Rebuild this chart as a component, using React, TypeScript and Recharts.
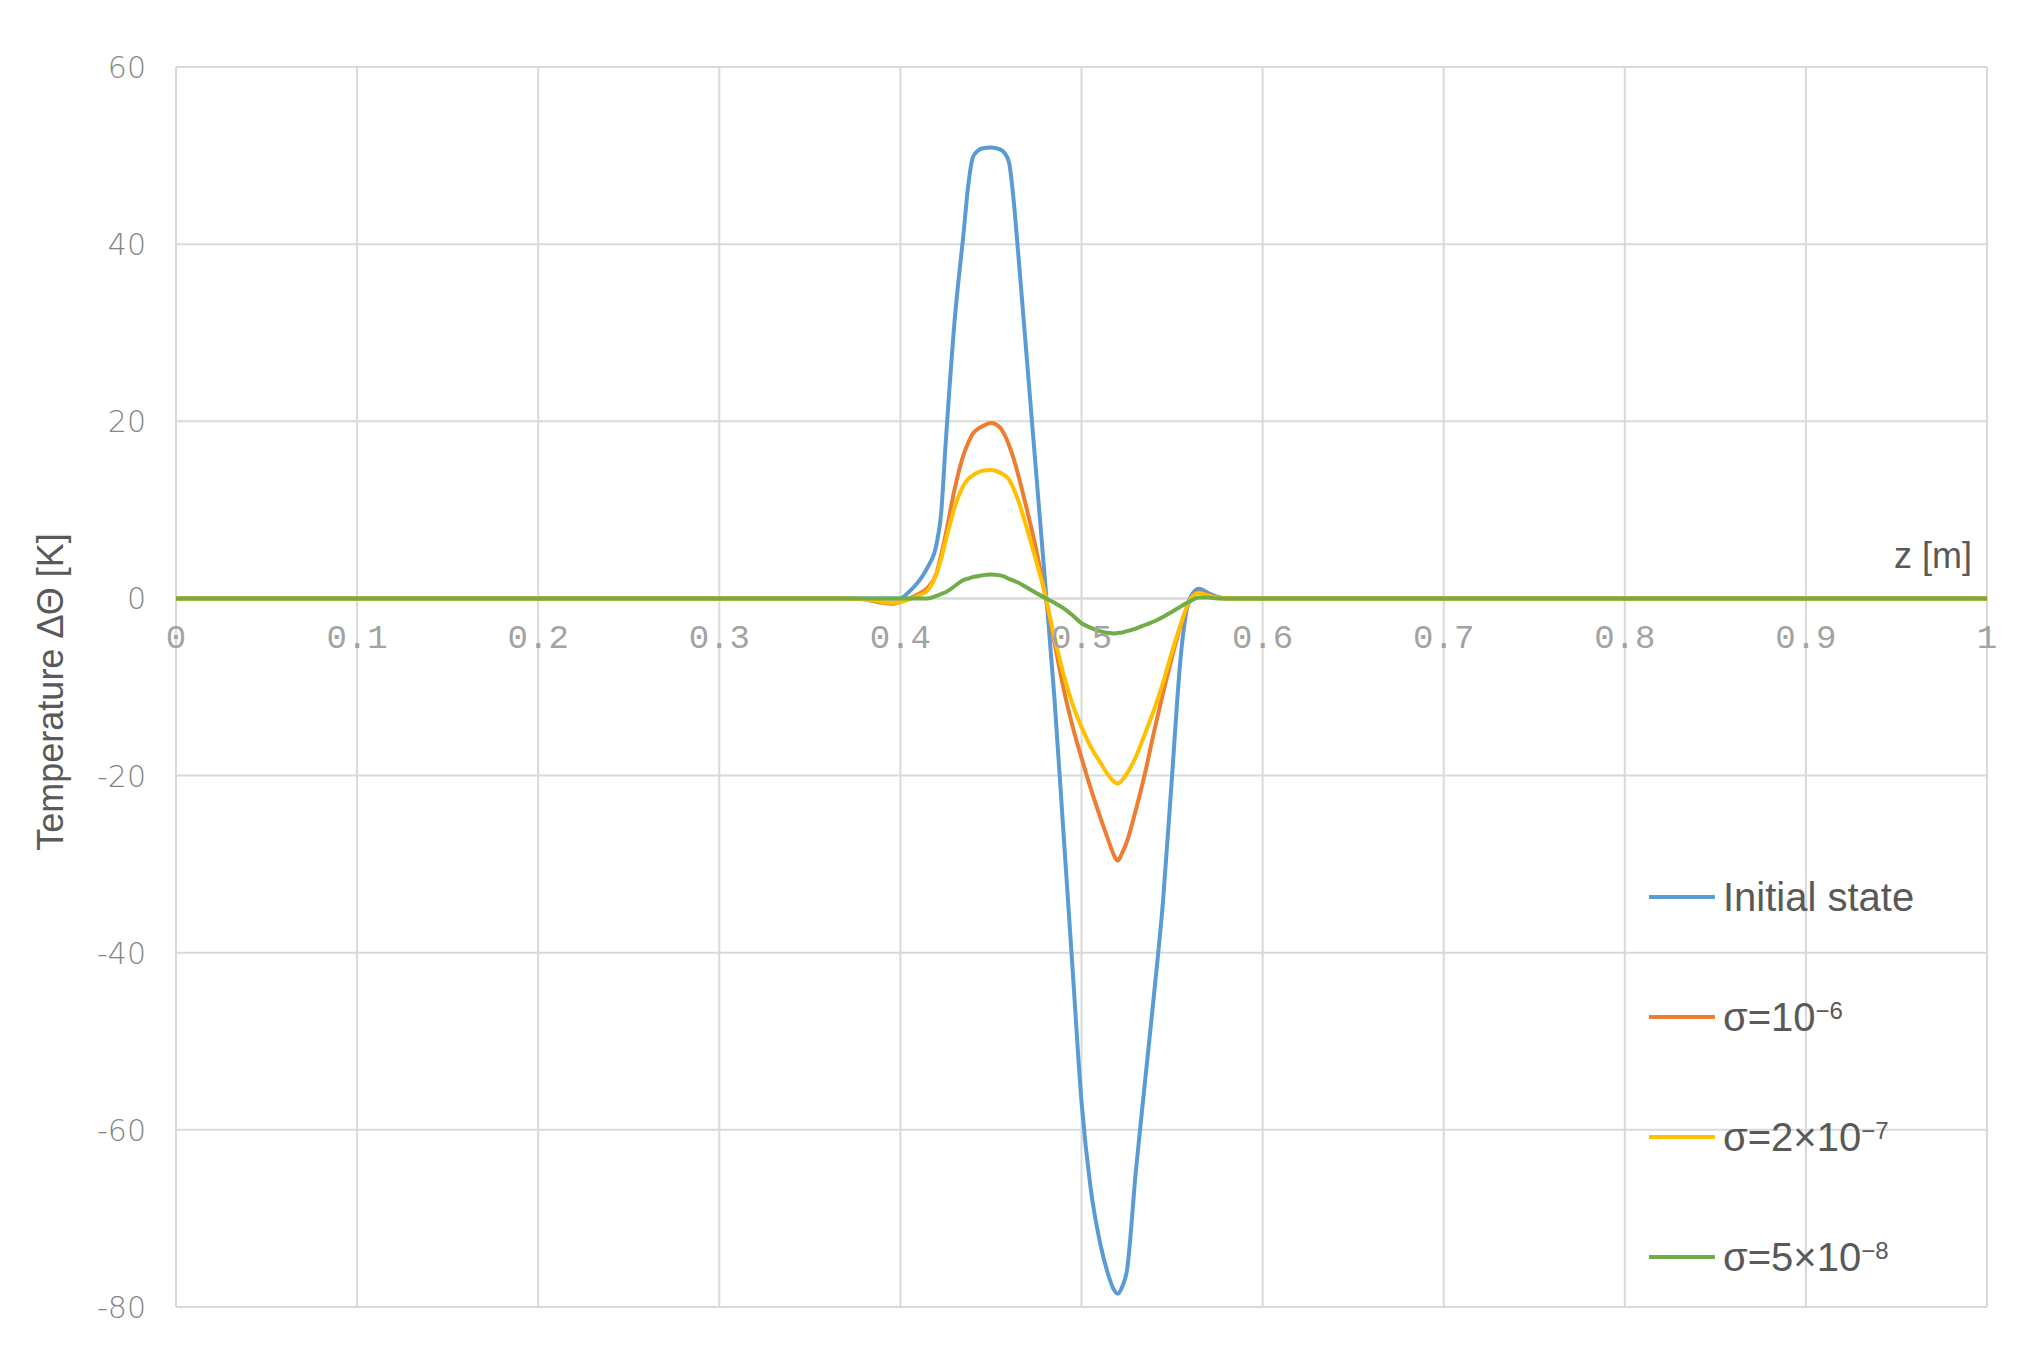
import { LineChart, Line, XAxis, YAxis, CartesianGrid, ReferenceLine, Legend } from 'recharts';

// z [m] sample positions
const Z = [
  0, 0.1, 0.2, 0.3, 0.37, 0.38, 0.385, 0.39, 0.395,
  0.4, 0.405, 0.41, 0.415, 0.42, 0.4225, 0.425, 0.43, 0.435, 0.4375, 0.44, 0.4425, 0.445,
  0.45, 0.455, 0.4575, 0.46, 0.4625, 0.465, 0.47, 0.475, 0.48, 0.485, 0.49, 0.495,
  0.5, 0.505, 0.51, 0.515, 0.5175, 0.52, 0.5225, 0.525, 0.53, 0.535, 0.54, 0.545,
  0.55, 0.555, 0.56, 0.565, 0.57, 0.575, 0.58,
  0.6, 0.7, 0.8, 0.9, 1,
];

// temperature ΔΘ [K]
const INITIAL = [
  0, 0, 0, 0, 0, 0, 0, 0, 0,
  0, 0.8, 1.9, 3.5, 6.2, 9.6, 17.5, 31.5, 41.5, 46.7, 49.8, 50.5, 50.8,
  50.9, 50.7, 50.3, 49.2, 45, 39.1, 26.6, 14.1, 1.6, -11.1, -26.3, -41.6,
  -56.8, -66.5, -72.5, -76.5, -77.9, -78.5, -77.7, -76, -64.7, -54.7, -44.8, -34.2,
  -20, -6.1, 0.1, 1.1, 0.6, 0.2, 0,
  0, 0, 0, 0, 0,
];

const SIGMA_1E6 = [
  0, 0, 0, 0, 0, -0.1, -0.3, -0.5, -0.6,
  -0.4, 0, 0.5, 1.2, 2.9, 4.9, 7.2, 12.4, 16.3, 17.6, 18.6, 19.1, 19.4,
  19.8, 19.3, 18.5, 17.3, 15.8, 14, 9.9, 5.5, 0.3, -4.9, -10.1, -14.4,
  -18, -21.4, -24.5, -27.4, -28.8, -29.6, -28.7, -27.5, -23.9, -19.8, -15.1, -10.7,
  -6.6, -2.9, -0.2, 0.7, 0.4, 0.1, 0,
  0, 0, 0, 0, 0,
];

const SIGMA_2E7 = [
  0, 0, 0, 0, 0, -0.1, -0.2, -0.4, -0.5,
  -0.4, -0.1, 0.3, 0.9, 2.8, 4.5, 6.5, 10.3, 12.8, 13.5, 13.9, 14.2, 14.4,
  14.5, 14.2, 13.9, 13.4, 12.4, 11.1, 7.8, 4.2, 0.4, -4.3, -8.5, -11.9,
  -14.5, -16.7, -18.4, -20, -20.6, -20.9, -20.5, -19.8, -17.9, -15.3, -12.6, -9.5,
  -6, -2.8, -0.1, 0.6, 0.3, 0.1, 0,
  0, 0, 0, 0, 0,
];

const SIGMA_5E8 = [
  0, 0, 0, 0, 0, 0, 0, 0, 0,
  0, 0, 0, 0, 0.3, 0.5, 0.7, 1.4, 2.1, 2.25, 2.4, 2.5, 2.6,
  2.7, 2.6, 2.45, 2.2, 2, 1.8, 1.2, 0.6, 0.05, -0.5, -1.1, -1.9,
  -2.8, -3.3, -3.7, -3.9, -3.95, -3.9, -3.85, -3.7, -3.4, -3, -2.6, -2.1,
  -1.5, -0.9, -0.3, 0.1, 0.1, 0, 0,
  0, 0, 0, 0, 0,
];

const X_TICKS = [0, 0.1, 0.2, 0.3, 0.4, 0.5, 0.6, 0.7, 0.8, 0.9, 1];
const Y_TICKS = [-80, -60, -40, -20, 0, 20, 40, 60];

const SERIES = [
  { key: 'initial', label: 'Initial state', exp: '', color: '#5b9bd5' },
  { key: 's1', label: 'σ=10', exp: '−6', color: '#ed7d31' },
  { key: 's2', label: 'σ=2×10', exp: '−7', color: '#ffc000' },
  { key: 's3', label: 'σ=5×10', exp: '−8', color: '#70ad47' },
];

const data = Z.map((z, i) => ({
  z,
  initial: INITIAL[i],
  s1: SIGMA_1E6[i],
  s2: SIGMA_2E7[i],
  s3: SIGMA_5E8[i],
}));

const W = 2028;
const H = 1364;
const MARGIN = { top: 67, right: 41, left: 116, bottom: 27 };
const Y_AXIS_W = 60;
const X_AXIS_H = 30;
const PLOT_TOP = MARGIN.top;
const PLOT_H = H - MARGIN.top - MARGIN.bottom - X_AXIS_H;
const ZERO_Y = PLOT_TOP + (PLOT_H * 60) / 140;

const XTick = ({ x, payload }: any) => (
  <text
    x={x}
    y={ZERO_Y + 50}
    textAnchor="middle"
    fontFamily="Liberation Mono, monospace"
    fontSize={34}
    fill="#a3a3a3"
  >
    {String(payload.value)}
  </text>
);

const YTick = ({ y, payload }: any) => (
  <text
    x={MARGIN.left + Y_AXIS_W - 30}
    y={y + 11}
    textAnchor="end"
    fontFamily="DejaVu Sans, sans-serif"
    fontWeight={200}
    fontSize={30}
    fill="#858585"
  >
    {String(payload.value)}
  </text>
);

function LegendBox() {
  return (
    <div style={{ fontFamily: 'Liberation Sans, Arial, sans-serif', fontSize: 40, color: '#595959' }}>
      {SERIES.map(s => (
        <div key={s.key} style={{ display: 'flex', alignItems: 'center', height: 120 }}>
          <div style={{ width: 66, height: 4, background: s.color, marginRight: 8 }} />
          <span style={{ lineHeight: '40px' }}>
            {s.label}
            {s.exp && <sup style={{ fontSize: 24, verticalAlign: 'top', position: 'relative', top: -6 }}>{s.exp}</sup>}
          </span>
        </div>
      ))}
    </div>
  );
}

export default function App() {
  return (
    <div style={{ position: 'absolute', left: 0, top: 0, width: W, height: H, background: '#fff' }}>
      <LineChart width={W} height={H} data={data} margin={MARGIN}>
        <CartesianGrid stroke="#d9d9d9" strokeWidth={2} />
        <XAxis
          dataKey="z"
          type="number"
          domain={[0, 1]}
          ticks={X_TICKS}
          height={X_AXIS_H}
          axisLine={false}
          tickLine={false}
          tick={<XTick />}
          interval={0}
        />
        <YAxis
          type="number"
          domain={[-80, 60]}
          ticks={Y_TICKS}
          width={Y_AXIS_W}
          axisLine={false}
          tickLine={false}
          tick={<YTick />}
          interval={0}
          label={({ viewBox }: any) => (
            <text
              x={50}
              y={viewBox.y + viewBox.height / 2 + 5}
              transform={`rotate(-90 50 ${viewBox.y + viewBox.height / 2 + 5})`}
              textAnchor="middle"
              dominantBaseline="central"
              fontFamily="Liberation Sans, Arial, sans-serif"
              fontSize={36}
              fill="#595959"
            >
              Temperature ΔΘ [K]
            </text>
          )}
        />
        <ReferenceLine
          y={0}
          stroke="#d9d9d9"
          strokeWidth={2}
          label={({ viewBox }: any) => (
            <text
              x={viewBox.x + viewBox.width - 15}
              y={viewBox.y - 30}
              textAnchor="end"
              fontFamily="Liberation Sans, Arial, sans-serif"
              fontSize={36}
              fill="#595959"
            >
              z [m]
            </text>
          )}
        />
        {SERIES.map(s => (
          <Line
            key={s.key}
            type="monotone"
            dataKey={s.key}
            name={s.label}
            stroke={s.color}
            strokeWidth={4}
            dot={false}
            isAnimationActive={false}
          />
        ))}
        <Legend
          layout="vertical"
          align="center"
          verticalAlign="middle"
          content={() => <LegendBox />}
          wrapperStyle={{ position: 'absolute', left: 1649, top: 837, width: 360 }}
        />
      </LineChart>
    </div>
  );
}
